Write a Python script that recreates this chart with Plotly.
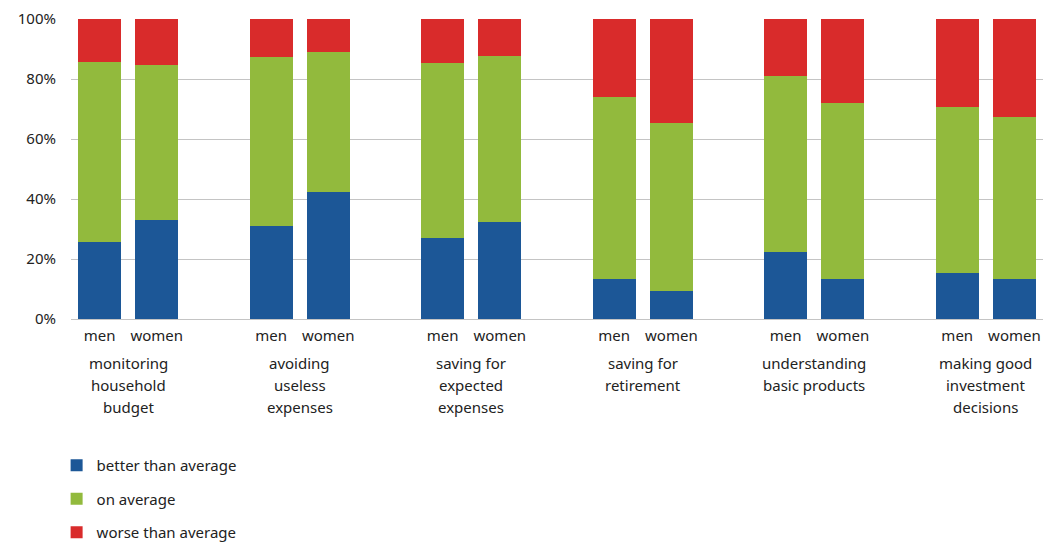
import plotly.graph_objects as go

groups = [["monitoring", "household", "budget"], ["avoiding", "useless", "expenses"],
          ["saving for", "expected", "expenses"], ["saving for", "retirement"],
          ["understanding", "basic products"], ["making good", "investment", "decisions"]]
sexes = ["men", "women"]
series_names = ["better than average", "on average", "worse than average"]

better_men = [25.7, 30.9, 26.9, 13.2, 22.5, 15.2]
better_women = [32.9, 42.2, 32.2, 9.4, 13.5, 13.2]
onavg_men = [60.1, 56.5, 58.6, 60.9, 58.4, 55.6]
onavg_women = [51.8, 46.7, 55.6, 56.0, 58.6, 54.2]
worse_men = [14.2, 12.6, 14.5, 25.9, 19.1, 29.2]
worse_women = [15.3, 11.1, 12.2, 34.6, 27.9, 32.6]

y_ticks = [0, 20, 40, 60, 80, 100]
y_ticklabels = ["0%", "20%", "40%", "60%", "80%", "100%"]

colors = ["#1c5797", "#92ba3d", "#d92b2b"]

# x positions: men at 3g, women at 3g+1, empty slot between groups
xs, labels = [], []
for g in range(len(groups)):
    xs += [3 * g, 3 * g + 1]
    labels += sexes

def interleave(a, b):
    out = []
    for i in range(len(a)):
        out += [a[i], b[i]]
    return out

data = [interleave(better_men, better_women),
        interleave(onavg_men, onavg_women),
        interleave(worse_men, worse_women)]

fig = go.Figure()
for name, vals, c in zip(series_names, data, colors):
    fig.add_trace(go.Bar(x=xs, y=vals, name=name, marker_color=c,
                         marker_line_width=0, width=0.75, legendgroup=name))

for g, lines in enumerate(groups):
    for i, line in enumerate(lines):
        fig.add_annotation(x=3 * g + 0.5, y=0, xref="x", yref="y", text=line,
                           showarrow=False, yanchor="top", yshift=-32 - 22 * i,
                           font=dict(size=15, color="#222222"), align="center")

# page body has an 8px default margin, so the figure is sized 8px smaller
fig.update_layout(
    barmode="stack",
    width=1045, height=535,
    margin=dict(l=63, r=10, t=11, b=224, autoexpand=False),
    plot_bgcolor="white", paper_bgcolor="white",
    font=dict(family="Noto Sans", size=15, color="#222222"),
    bargap=0,
    legend=dict(x=-0.0148, y=-0.4333, xanchor="left", yanchor="top",
                orientation="v", traceorder="grouped", tracegroupgap=11,
                font=dict(size=15), itemwidth=30),
    showlegend=True,
)
fig.update_xaxes(range=[-0.5, 16.5], tickmode="array", tickvals=xs, ticktext=labels,
                 showgrid=False, showline=False, zeroline=False, ticks="",
                 ticklabelstandoff=6, tickfont=dict(size=15))
fig.update_yaxes(range=[0, 100], tickmode="array", tickvals=y_ticks, ticktext=y_ticklabels,
                 showgrid=True, gridcolor="#c4c4c4", gridwidth=1, zeroline=True,
                 zerolinecolor="#c4c4c4", zerolinewidth=1, showline=False,
                 ticklabelstandoff=14, tickfont=dict(size=15))

fig.write_html("out.html")
